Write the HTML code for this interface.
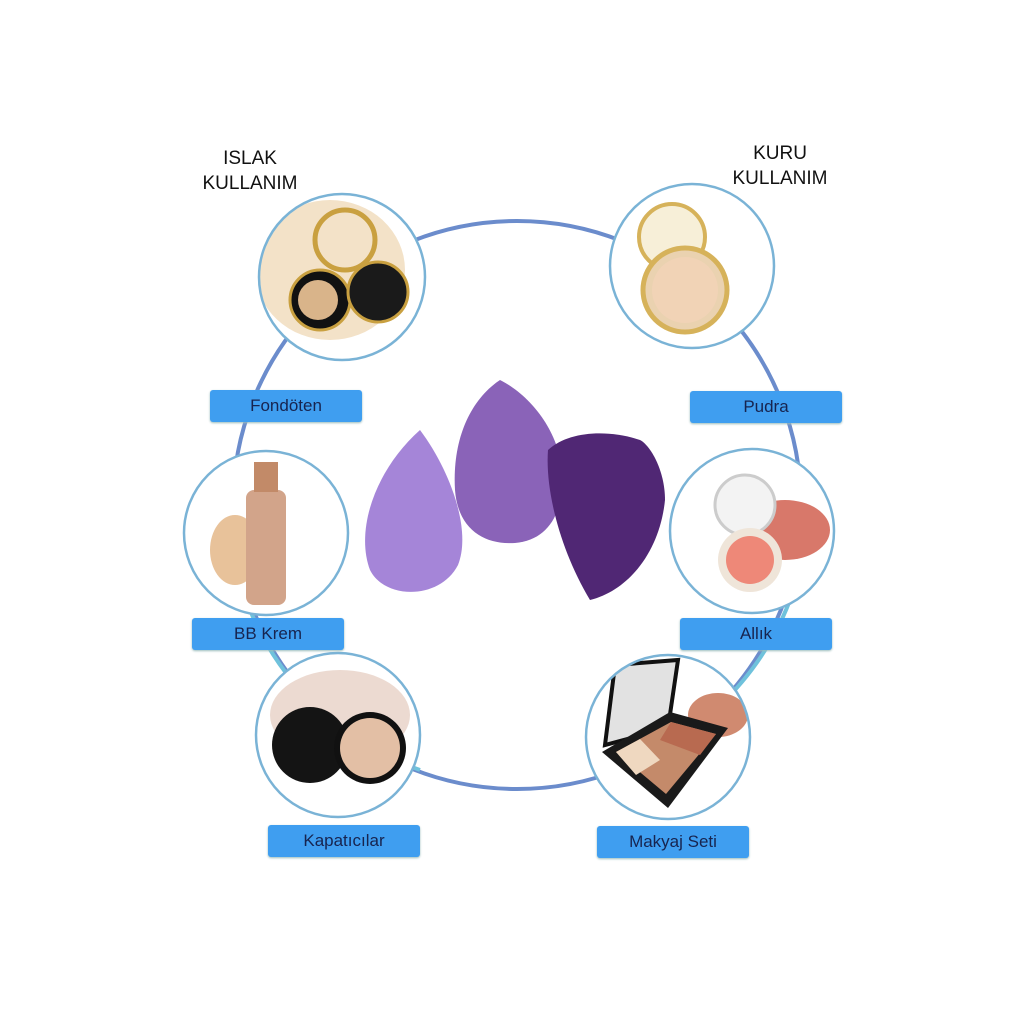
<!DOCTYPE html>
<html><head><meta charset="utf-8"><style>
body{margin:0;width:1024px;height:1024px;background:#fff;position:relative;overflow:hidden;font-family:"Liberation Sans",sans-serif}
.t{position:absolute;font-size:19px;color:#111;text-align:center;line-height:25px}
.l{position:absolute;width:152px;height:32px;background:#3f9ef0;border-radius:3px;color:#17244f;font-size:17px;text-align:center;line-height:32px;box-shadow:0 1px 2px #9bb}
svg{position:absolute;left:0;top:0}
</style></head><body>
<svg width="1024" height="1024">
<defs>
<clipPath id="c1"><circle cx="342" cy="277" r="82"/></clipPath>
<clipPath id="c2"><circle cx="692" cy="266" r="81"/></clipPath>
<clipPath id="c3"><circle cx="266" cy="533" r="81"/></clipPath>
<clipPath id="c4"><circle cx="752" cy="531" r="81"/></clipPath>
<clipPath id="c5"><circle cx="338" cy="735" r="81"/></clipPath>
<clipPath id="c6"><circle cx="668" cy="737" r="81"/></clipPath>
</defs>
<circle cx="517" cy="505" r="284" fill="none" stroke="#6b8ccc" stroke-width="4"/>
<path d="M250 610 A284 284 0 0 0 420 770" fill="none" stroke="#6fc2dc" stroke-width="4"/>
<path d="M610 770 A284 284 0 0 0 790 600" fill="none" stroke="#6fc2dc" stroke-width="4"/>
<g fill="#fff">
<circle cx="342" cy="277" r="83"/><circle cx="692" cy="266" r="82"/>
<circle cx="266" cy="533" r="82"/><circle cx="752" cy="531" r="82"/>
<circle cx="338" cy="735" r="82"/><circle cx="668" cy="737" r="82"/>
</g>
<g clip-path="url(#c1)">
<ellipse cx="330" cy="270" rx="75" ry="70" fill="#f3e2c8"/>
<circle cx="345" cy="240" r="30" fill="none" stroke="#c9a040" stroke-width="5"/>
<circle cx="320" cy="300" r="30" fill="#111" stroke="#c9a040" stroke-width="3"/>
<circle cx="318" cy="300" r="20" fill="#d9b48a"/>
<circle cx="378" cy="292" r="30" fill="#1a1a1a" stroke="#c9a040" stroke-width="3"/>
</g>
<g clip-path="url(#c2)">
<circle cx="672" cy="237" r="33" fill="#f7efd8" stroke="#d6b25a" stroke-width="4"/>
<circle cx="685" cy="290" r="42" fill="#ead2b0" stroke="#d6b25a" stroke-width="5"/>
<circle cx="685" cy="290" r="33" fill="#f1d3b6"/>
</g>
<g clip-path="url(#c3)">
<ellipse cx="235" cy="550" rx="25" ry="35" fill="#e8c29a"/>
<rect x="246" y="490" width="40" height="115" rx="8" fill="#d2a48a"/>
<rect x="254" y="462" width="24" height="30" fill="#c28a68"/>
</g>
<g clip-path="url(#c4)">
<ellipse cx="785" cy="530" rx="45" ry="30" fill="#d8786a"/>
<circle cx="745" cy="505" r="30" fill="#f3f3f3" stroke="#ccc" stroke-width="3"/>
<circle cx="750" cy="560" r="32" fill="#efe5d9"/>
<circle cx="750" cy="560" r="24" fill="#ee8878"/>
</g>
<g clip-path="url(#c5)">
<ellipse cx="340" cy="715" rx="70" ry="45" fill="#e4cbbd" opacity=".7"/>
<circle cx="310" cy="745" r="38" fill="#141414"/>
<circle cx="370" cy="748" r="36" fill="#111"/>
<circle cx="370" cy="748" r="30" fill="#e3bfa5"/>
</g>
<g clip-path="url(#c6)">
<ellipse cx="718" cy="715" rx="30" ry="22" fill="#d08a70"/>
<polygon points="605,745 615,665 678,660 668,728" fill="#e2e2e2" stroke="#111" stroke-width="4"/>
<polygon points="602,752 670,712 728,728 668,808" fill="#1a1a1a"/>
<polygon points="616,752 671,722 716,734 666,794" fill="#c48a6a"/>
<polygon points="616,752 640,739 660,760 636,775" fill="#efd8c0"/>
<polygon points="671,722 716,734 700,755 660,740" fill="#b86a50"/>
</g>
<g stroke="#7ab3d6" stroke-width="2.5" fill="none">
<circle cx="342" cy="277" r="83"/><circle cx="692" cy="266" r="82"/>
<circle cx="266" cy="533" r="82"/><circle cx="752" cy="531" r="82"/>
<circle cx="338" cy="735" r="82"/><circle cx="668" cy="737" r="82"/>
</g>
<path d="M420 430 C375 470 355 530 370 570 C385 600 440 600 458 565 C472 530 450 470 420 430Z" fill="#a585d8"/>
<path d="M500 380 C470 400 452 440 455 490 C458 530 485 545 515 543 C550 540 565 510 562 470 C558 430 530 395 500 380Z" fill="#8a63b8"/>
<path d="M548 450 C545 490 560 550 590 600 C630 590 660 550 665 500 C665 470 650 445 640 440 C610 430 570 430 548 450Z" fill="#502774"/>
</svg>
<div class="t" style="left:195px;top:146px;width:110px">ISLAK<br>KULLANIM</div>
<div class="t" style="left:725px;top:141px;width:110px">KURU<br>KULLANIM</div>
<div class="l" style="left:210px;top:390px">Fondöten</div>
<div class="l" style="left:690px;top:391px">Pudra</div>
<div class="l" style="left:192px;top:618px">BB Krem</div>
<div class="l" style="left:680px;top:618px">Allık</div>
<div class="l" style="left:268px;top:825px">Kapatıcılar</div>
<div class="l" style="left:597px;top:826px">Makyaj Seti</div>
</body></html>
